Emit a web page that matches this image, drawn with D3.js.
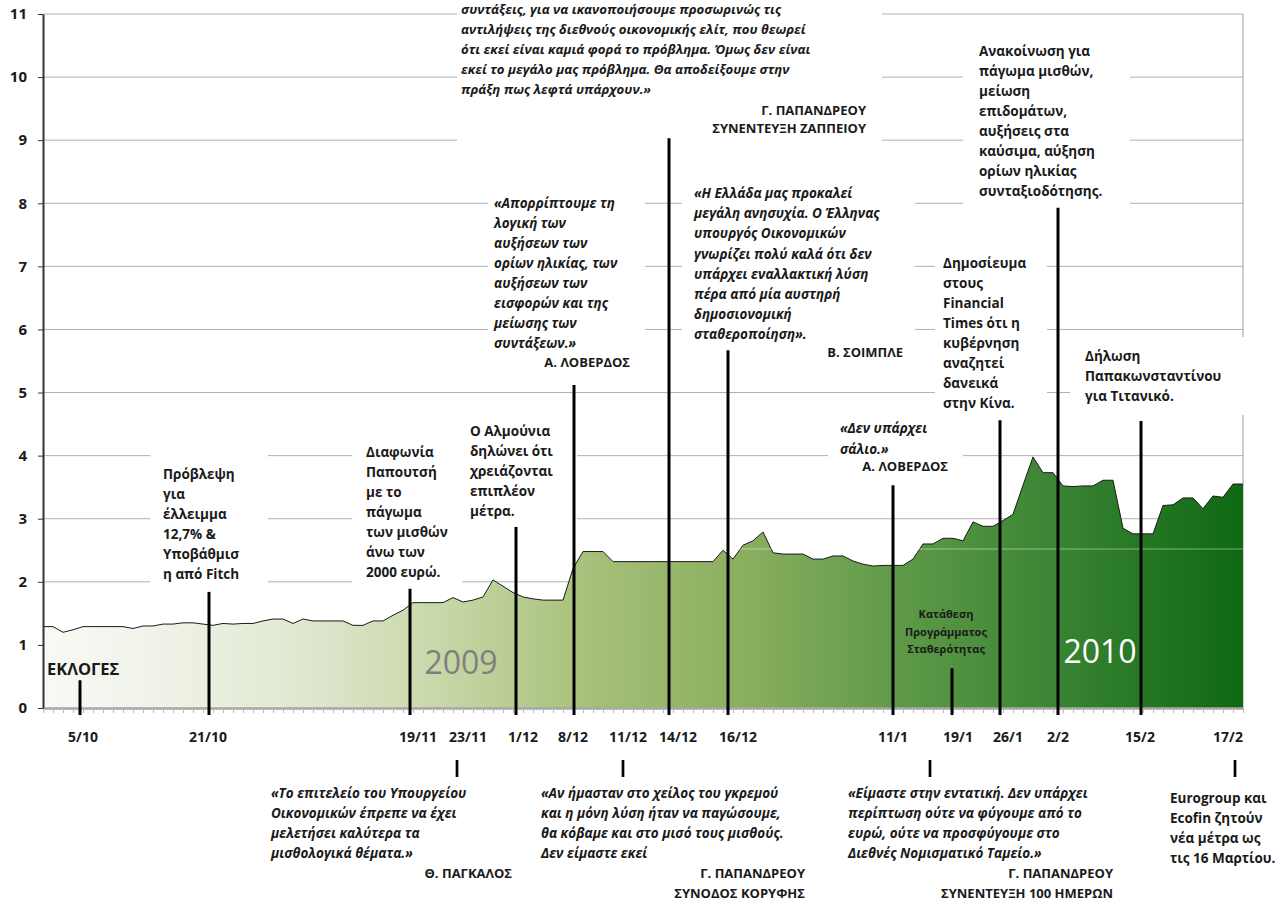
<!DOCTYPE html>
<meta charset="utf-8">
<style>
body { margin: 0; background: #fff; }
svg text { font-family: "Open Sans", sans-serif; font-weight: bold; fill: #1a1a1a; }
</style>
<body>
<svg width="1277" height="901"></svg>
<script src="https://d3js.org/d3.v7.min.js"></script>
<script>
// ---- data ----
var values = [
  1.29,1.29,1.20,1.24,1.29,1.29,1.29,1.29,1.29,1.26,
  1.30,1.30,1.33,1.33,1.35,1.35,1.33,1.31,1.34,1.33,
  1.34,1.34,1.38,1.41,1.41,1.34,1.41,1.38,1.38,1.38,
  1.38,1.31,1.31,1.38,1.38,1.47,1.55,1.67,1.67,1.67,
  1.67,1.75,1.68,1.71,1.76,2.03,1.93,1.83,1.76,1.73,
  1.71,1.71,1.71,2.21,2.48,2.48,2.48,2.32,2.32,2.32,
  2.32,2.32,2.32,2.32,2.32,2.32,2.32,2.32,2.50,2.36,
  2.58,2.65,2.79,2.46,2.44,2.44,2.44,2.36,2.36,2.41,
  2.41,2.33,2.28,2.25,2.26,2.26,2.26,2.36,2.60,2.60,
  2.69,2.69,2.65,2.95,2.88,2.88,2.97,3.07,3.53,3.98,
  3.73,3.73,3.52,3.51,3.52,3.52,3.61,3.61,2.85,2.76,
  2.76,2.76,3.21,3.22,3.33,3.33,3.16,3.36,3.34,3.55,
  3.55
];
var yTicks = [0,1,2,3,4,5,6,7,8,9,10,11];

// date labels under the axis and where they sit on the category axis
var dateLabels = ["5/10","21/10","19/11","23/11","1/12","8/12","11/12","14/12","16/12","11/1","19/1","26/1","2/2","15/2","17/2"];
var dateIdx    = [4, 16.5, 37.5, 42.5, 48, 53, 58.5, 63.5, 69.5, 85, 91.5, 96.5, 101.5, 109.7, 118.5];

// event markers (category position, height the marker reaches)
var eventIdx = [3.7, 16.6, 36.7, 47.3, 53.1, 62.6, 68.5, 85, 90.9, 95.7, 101.5, 109.8];
var eventTop = [0.44, 1.84, 1.89, 2.87, 5.12, 9.03, 5.67, 3.53, 0.63, 4.56, 7.93, 4.55];
// markers pointing at the quotes below the axis
var lowIdx = [41.4, 58, 88.7, 119.2];

// ---- texts ----
var noteFitch = ["Πρόβλεψη", "για", "έλλειμμα", "12,7% &", "Υποβάθμισ", "η από Fitch"];
var notePapoutsis = ["Διαφωνία", "Παπουτσή", "με το", "πάγωμα", "των μισθών", "άνω των", "2000 ευρώ."];
var noteAlmunia = ["Ο Αλμούνια", "δηλώνει ότι", "χρειάζονται", "επιπλέον", "μέτρα."];
var quoteLoverdos1 = ["«Απορρίπτουμε τη", "λογική των", "αυξήσεων των", "ορίων ηλικίας, των", "αυξήσεων των", "εισφορών και της", "μείωσης των", "συντάξεων.»"];
var quoteZappeio = ["συντάξεις, για να ικανοποιήσουμε προσωρινώς τις", "αντιλήψεις της διεθνούς οικονομικής ελίτ, που θεωρεί", "ότι εκεί είναι καμιά φορά το πρόβλημα. Όμως δεν είναι", "εκεί το μεγάλο μας πρόβλημα. Θα αποδείξουμε στην", "πράξη πως λεφτά υπάρχουν.»"];
var quoteSchaeuble = ["«Η Ελλάδα μας προκαλεί", "μεγάλη ανησυχία. Ο Έλληνας", "υπουργός Οικονομικών", "γνωρίζει πολύ καλά ότι δεν", "υπάρχει εναλλακτική λύση", "πέρα από μία αυστηρή", "δημοσιονομική", "σταθεροποίηση»."];
var noteMeasures = ["Ανακοίνωση για", "πάγωμα μισθών,", "μείωση", "επιδομάτων,", "αυξήσεις στα", "καύσιμα, αύξηση", "ορίων ηλικίας", "συνταξιοδότησης."];
var noteFT = ["Δημοσίευμα", "στους", "Financial", "Times ότι η", "κυβέρνηση", "αναζητεί", "δανεικά", "στην Κίνα."];
var noteTitanic = ["Δήλωση", "Παπακωνσταντίνου", "για Τιτανικό."];
var quoteLoverdos2 = ["«Δεν υπάρχει", "σάλιο.»"];
var noteProgram = ["Κατάθεση", "Προγράμματος", "Σταθερότητας"];
var quotePangalos = ["«Το επιτελείο του Υπουργείου", "Οικονομικών έπρεπε να έχει", "μελετήσει καλύτερα τα", "μισθολογικά θέματα.»"];
var quoteSummit = ["«Αν ήμασταν στο χείλος του γκρεμού", "και η μόνη λύση ήταν να παγώσουμε,", "θα κόβαμε και στο μισό τους μισθούς.", "Δεν είμαστε εκεί"];
var quote100 = ["«Είμαστε στην εντατική. Δεν υπάρχει", "περίπτωση ούτε να φύγουμε από το", "ευρώ, ούτε να προσφύγουμε στο", "Διεθνές Νομισματικό Ταμείο.»"];
var noteEurogroup = ["Eurogroup και", "Ecofin ζητούν", "νέα μέτρα ως", "τις 16 Μαρτίου."];

// text boxes (page pixels), box = white background [x0, y0, x1, y1]
var notes = [
  {lines: noteFitch, x: 163, y: 479, box: [150, 440, 268, 592]},
  {lines: notePapoutsis, x: 366, y: 457, box: [352, 437, 462, 592]},
  {lines: noteAlmunia, x: 470, y: 436, box: [456, 415, 577, 528]},
  {lines: quoteLoverdos1, x: 494, y: 208, it: true, box: [488, 185, 645, 376],
   sign: ["Α. ΛΟΒΕΡΔΟΣ"], sx: 630, sy: 367},
  {lines: quoteZappeio, x: 461, y: 14, lh: 20, fs: 13.2, it: true, box: [457, -10, 882, 150],
   sign: ["Γ. ΠΑΠΑΝΔΡΕΟΥ", "ΣΥΝΕΝΤΕΥΞΗ ΖΑΠΠΕΙΟΥ"], sx: 866, sy: 115, slh: 18},
  {lines: quoteSchaeuble, x: 694, y: 198, lh: 20.2, it: true, box: [682, 178, 915, 372],
   sign: ["Β. ΣΟΙΜΠΛΕ"], sx: 903, sy: 357},
  {lines: noteMeasures, x: 979, y: 56, box: [963, 36, 1130, 210]},
  {lines: noteFT, x: 943, y: 268, box: [935, 250, 1047, 415]},
  {lines: noteTitanic, x: 1085, y: 361, box: [1070, 337, 1277, 415]},
  {lines: quoteLoverdos2, x: 840, y: 433, lh: 21, it: true, box: [828, 412, 963, 480],
   sign: ["Α. ΛΟΒΕΡΔΟΣ"], sx: 948, sy: 471},
  {lines: quotePangalos, x: 271, y: 798, it: true, sign: ["Θ. ΠΑΓΚΑΛΟΣ"], sx: 512, sy: 878},
  {lines: quoteSummit, x: 541, y: 798, it: true,
   sign: ["Γ. ΠΑΠΑΝΔΡΕΟΥ", "ΣΥΝΟΔΟΣ ΚΟΡΥΦΗΣ"], sx: 805, sy: 878},
  {lines: quote100, x: 848, y: 798, it: true,
   sign: ["Γ. ΠΑΠΑΝΔΡΕΟΥ", "ΣΥΝΕΝΤΕΥΞΗ 100 ΗΜΕΡΩΝ"], sx: 1113, sy: 878},
  {lines: noteEurogroup, x: 1170, y: 803}
];

var svg = d3.select("svg"),
    margin = {top: 14, right: 34, bottom: 193, left: 43},
    width = +svg.attr("width") - margin.left - margin.right,
    height = +svg.attr("height") - margin.top - margin.bottom;

var x = d3.scaleLinear().domain([0, values.length - 1]).range([0, width]);
var y = d3.scaleLinear().domain([0, 11]).range([height, 0]);

// layers: chart below, white boxes, then markers and text on top
var g = svg.append("g")
    .attr("transform", "translate(" + margin.left + "," + margin.top + ")");
var boxLayer = svg.append("g");
var front = svg.append("g")
    .attr("transform", "translate(" + margin.left + "," + margin.top + ")");
var textLayer = svg.append("g");

// gradient for the area
var grad = svg.append("defs").append("linearGradient")
    .attr("id", "fillGrad")
    .attr("gradientUnits", "userSpaceOnUse")
    .attr("x1", 0).attr("x2", width).attr("y1", 0).attr("y2", 0);
[[0, "#f9faf6"], [0.13, "#ebf0e2"], [0.22, "#dfe7cf"], [0.34, "#c5d6a5"],
 [0.46, "#a6bf77"], [0.59, "#88ae5f"], [0.71, "#5f9a48"], [0.84, "#3b8534"], [1, "#0e6812"]]
  .forEach(function(s) {
    grad.append("stop").attr("offset", s[0]).attr("stop-color", s[1]);
  });

// gridlines
g.selectAll(".grid")
  .data(yTicks.filter(function(d) { return d > 0; }))
  .enter().append("line")
    .attr("x1", 0).attr("x2", width)
    .attr("y1", function(d) { return y(d); })
    .attr("y2", function(d) { return y(d); })
    .attr("stroke", "#b0b0b0").attr("stroke-width", 1);

g.append("line")
    .attr("x1", width).attr("x2", width)
    .attr("y1", y(11)).attr("y2", y(0))
    .attr("stroke", "#a0a0a0");

// area + outline
var area = d3.area()
    .x(function(d, i) { return x(i); })
    .y0(y(0))
    .y1(function(d) { return y(d); });
var line = d3.line()
    .x(function(d, i) { return x(i); })
    .y(function(d) { return y(d); });

g.append("path").datum(values)
    .attr("d", area)
    .attr("fill", "url(#fillGrad)");
g.append("path").datum(values)
    .attr("d", line)
    .attr("fill", "none")
    .attr("stroke", "#1a1a1a")
    .attr("stroke-width", 1);

// faint light line inside the fill
g.append("line")
    .attr("x1", 0).attr("x2", width)
    .attr("y1", y(2.52)).attr("y2", y(2.52))
    .attr("stroke", "#fff").attr("stroke-opacity", 0.45);

// x axis: grey base with a small tick for every point
var xAxis = g.append("g")
    .attr("transform", "translate(0," + height + ")")
    .call(d3.axisBottom(x).tickValues(d3.range(values.length)).tickSize(5).tickSizeOuter(0).tickFormat(""));
xAxis.select(".domain").attr("stroke", "#a6a6a6").attr("stroke-width", 2.5);
xAxis.selectAll(".tick line").attr("stroke", "#b8b8b8");

// y axis
var yAxis = g.append("g")
    .call(d3.axisLeft(y).tickValues(yTicks).tickSize(5).tickSizeOuter(0).tickPadding(11));
yAxis.select(".domain").attr("stroke", "#333").attr("stroke-width", 2);
yAxis.selectAll(".tick line").attr("stroke", "#333");
yAxis.selectAll(".tick text")
    .style("font-size", "15px").style("font-weight", "bold")
    .style("font-family", "'Open Sans', sans-serif").attr("fill", "#1a1a1a");

// white text boxes
boxLayer.selectAll("rect")
  .data(notes.filter(function(d) { return d.box; }))
  .enter().append("rect")
    .attr("x", function(d) { return d.box[0]; })
    .attr("y", function(d) { return d.box[1]; })
    .attr("width", function(d) { return d.box[2] - d.box[0]; })
    .attr("height", function(d) { return d.box[3] - d.box[1]; })
    .attr("fill", "#fff");

// event lines
front.selectAll(".ev")
  .data(eventIdx)
  .enter().append("line")
    .attr("x1", function(d) { return x(d); })
    .attr("x2", function(d) { return x(d); })
    .attr("y1", function(d, i) { return y(eventTop[i]); })
    .attr("y2", height + 7)
    .attr("stroke", "#000").attr("stroke-width", 3);

front.selectAll(".low")
  .data(lowIdx)
  .enter().append("line")
    .attr("x1", function(d) { return x(d); })
    .attr("x2", function(d) { return x(d); })
    .attr("y1", height + 52).attr("y2", height + 69)
    .attr("stroke", "#000").attr("stroke-width", 2.7);

// date labels
front.selectAll(".date")
  .data(dateLabels)
  .enter().append("text")
    .attr("x", function(d, i) { return x(dateIdx[i]); })
    .attr("y", height + 34)
    .attr("text-anchor", "middle")
    .style("font-size", "14px")
    .text(function(d) { return d; });

// annotation texts
notes.forEach(function(n) {
  var lh = n.lh || 20;
  var t = textLayer.append("text")
      .style("font-size", (n.fs || 13.5) + "px")
      .style("font-style", n.it ? "italic" : "normal");
  t.selectAll("tspan")
    .data(n.lines)
    .enter().append("tspan")
      .attr("x", n.x)
      .attr("y", function(d, i) { return n.y + i * lh; })
      .text(function(d) { return d; });
  if (n.sign) {
    var s = textLayer.append("text")
        .attr("text-anchor", "end")
        .style("font-size", "13px");
    s.selectAll("tspan")
      .data(n.sign)
      .enter().append("tspan")
        .attr("x", n.sx)
        .attr("y", function(d, i) { return n.sy + i * (n.slh || 20); })
        .text(function(d) { return d; });
  }
});

// labels inside the fill
textLayer.append("text")
    .attr("x", 47).attr("y", 675)
    .style("font-size", "16.5px")
    .text("ΕΚΛΟΓΕΣ");

textLayer.append("text")
    .attr("text-anchor", "middle")
    .style("font-size", "11px")
  .selectAll("tspan")
  .data(noteProgram)
  .enter().append("tspan")
    .attr("x", 946)
    .attr("y", function(d, i) { return 618 + i * 17.5; })
    .text(function(d) { return d; });

textLayer.append("text")
    .attr("x", 461).attr("y", 674)
    .attr("text-anchor", "middle")
    .style("font-size", "32px").style("font-weight", "normal")
    .style("fill", "#7f7f7f")
    .text("2009");

textLayer.append("text")
    .attr("x", 1100).attr("y", 663)
    .attr("text-anchor", "middle")
    .style("font-size", "32px").style("font-weight", "normal")
    .style("fill", "#ffffff")
    .text("2010");
</script>
</body>
</html>
